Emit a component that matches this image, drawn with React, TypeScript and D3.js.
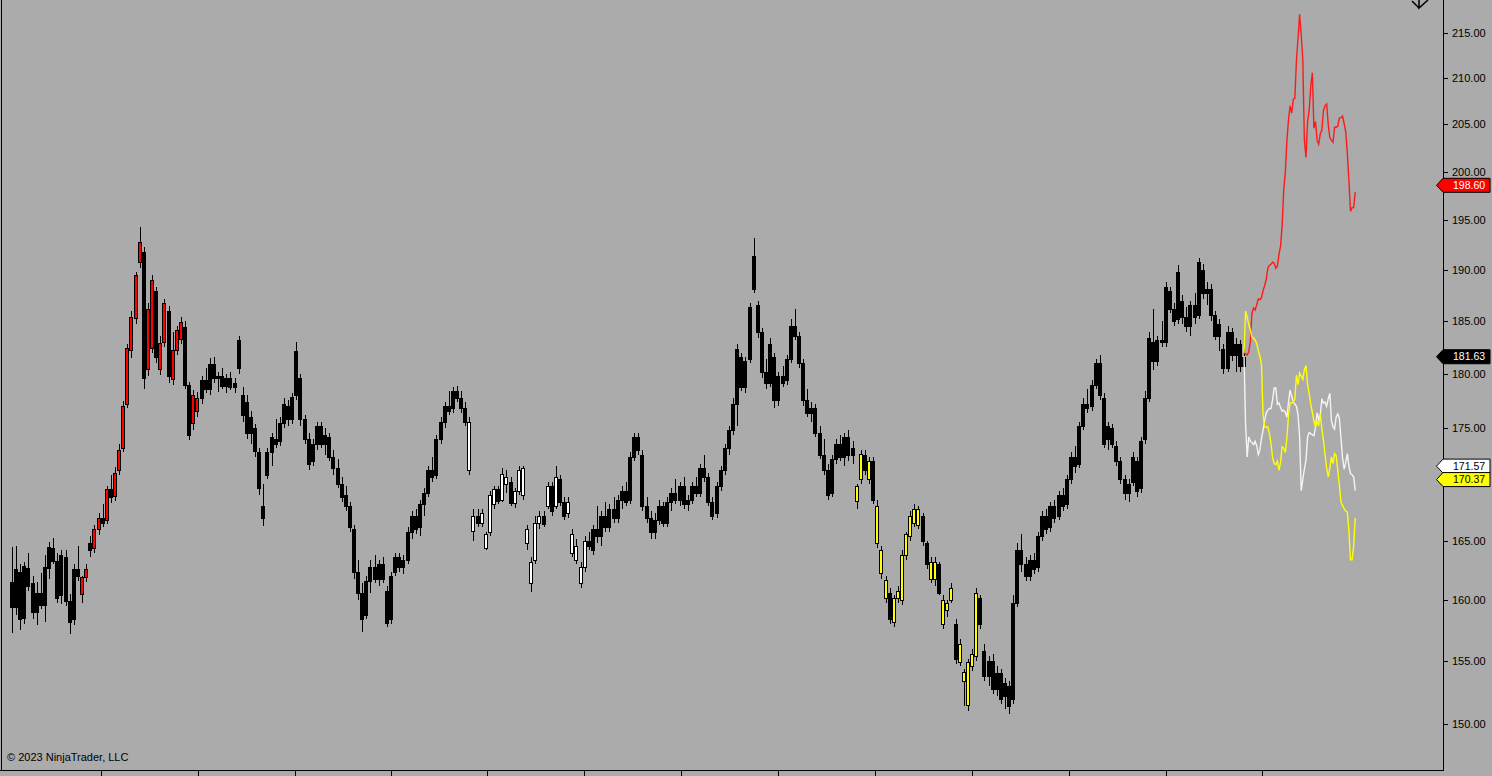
import React from 'react';
import * as d3 from 'd3';

// one candle = [open, high, low, close]
type Bar = [number, number, number, number];

const segStart: Bar[] = [
  [161.5, 164.5, 157.3, 159.4], [159.4, 164.6, 158.8, 162.6], [162.4, 163.0, 157.5, 158.4],
  [158.5, 163.2, 158.0, 162.9], [162.7, 164.0, 160.8, 161.2], [161.4, 162.0, 158.4, 159.0],
  [159.0, 161.5, 157.9, 160.6], [160.6, 162.3, 159.3, 159.6], [159.6, 163.8, 158.2, 162.8],
  [162.7, 164.9, 161.8, 164.5], [164.4, 165.3, 163.0, 163.3], [163.3, 164.0, 159.8, 160.2],
  [160.4, 164.2, 159.7, 163.8], [163.6, 164.2, 159.5, 159.9], [159.9, 160.5, 157.2, 158.2],
  [158.4, 163.0, 157.9, 162.6], [162.6, 164.6, 161.6, 162.0],
];

const segRed: Bar[] = [
  [160.5, 162.0, 159.8, 161.9], [161.9, 163.0, 161.5, 162.6], [164.8, 165.4, 163.6, 164.2],
  [164.4, 166.4, 164.0, 166.0], [166.0, 167.4, 165.5, 167.0], [167.0, 168.2, 166.2, 166.6],
  [166.8, 169.8, 166.5, 169.5], [169.5, 170.8, 168.3, 168.8], [168.9, 171.5, 168.5, 171.0],
  [171.2, 173.6, 170.8, 173.0], [173.2, 177.5, 172.8, 177.0], [177.2, 182.8, 176.8, 182.5],
  [182.3, 186.0, 181.5, 185.4], [185.3, 189.8, 184.8, 189.5], [190.8, 194.3, 190.2, 192.8],
  [191.8, 192.3, 178.6, 179.6], [180.5, 186.8, 179.8, 186.2], [182.5, 189.5, 182.0, 189.0],
  [188.0, 188.4, 181.0, 181.6], [180.5, 183.6, 179.9, 182.9], [183.0, 187.2, 182.6, 186.8],
  [186.0, 186.5, 179.2, 179.8], [179.5, 184.0, 179.0, 182.3], [182.3, 184.6, 181.8, 184.2],
  [183.3, 185.4, 182.8, 184.9], [184.5, 185.0, 178.6, 179.0], [179.0, 179.3, 173.9, 174.4],
  [175.5, 178.5, 174.8, 178.0], [176.6, 178.3, 176.0, 177.8],
];

const segMidA: Bar[] = [
  [177.8, 179.8, 177.2, 179.4], [179.4, 180.6, 178.2, 178.6], [178.6, 181.5, 178.0, 180.9],
  [180.9, 181.6, 179.2, 179.6], [179.6, 180.2, 178.3, 179.8], [179.8, 180.6, 178.6, 178.9],
  [178.9, 180.0, 178.2, 179.6], [179.6, 180.2, 178.5, 178.8], [178.8, 179.6, 178.2, 179.2],
  [180.6, 183.6, 180.0, 183.2], [178.0, 178.8, 175.6, 176.2], [177.4, 178.0, 174.0, 174.6],
  [174.6, 176.6, 173.6, 176.0], [175.0, 175.4, 172.4, 172.9], [172.8, 173.2, 169.0, 169.6],
  [168.0, 170.0, 166.3, 167.0], [170.8, 173.2, 170.4, 172.8], [172.8, 174.6, 171.6, 174.2],
  [174.0, 175.8, 173.2, 173.6], [173.8, 176.0, 173.4, 175.5], [175.5, 177.8, 175.0, 177.2],
  [177.0, 177.6, 175.2, 175.8], [175.8, 178.2, 175.4, 177.9], [178.0, 183.0, 177.6, 182.2],
  [179.6, 180.0, 175.2, 175.8], [175.8, 176.2, 173.6, 174.0], [174.0, 174.6, 171.2, 171.8],
  [172.0, 174.0, 171.6, 173.6], [173.6, 175.6, 173.0, 175.2], [175.2, 175.6, 173.2, 173.6],
  [173.6, 175.0, 172.6, 174.4], [174.2, 174.6, 172.0, 172.4], [172.4, 173.0, 170.8, 171.4],
  [171.4, 172.2, 169.6, 170.0], [170.0, 170.6, 168.4, 168.8], [169.0, 169.8, 167.6, 168.0],
  [168.0, 168.4, 165.8, 166.2], [166.0, 166.4, 161.8, 162.4], [162.4, 163.4, 160.0, 160.6],
  [160.6, 161.4, 157.4, 158.4], [158.8, 162.0, 158.4, 161.6], [161.6, 163.4, 160.6, 162.8],
  [162.8, 163.8, 161.4, 161.8], [161.8, 163.4, 161.2, 163.0], [163.0, 163.6, 161.4, 161.8],
  [160.8, 161.2, 157.8, 158.1], [158.4, 162.4, 158.0, 162.0], [162.4, 164.0, 162.0, 163.6],
  [163.6, 164.0, 162.4, 162.8], [162.8, 163.8, 162.2, 163.4], [163.4, 166.2, 163.0, 165.8],
  [165.8, 167.6, 165.2, 167.2], [167.2, 167.8, 165.6, 166.0], [166.2, 168.6, 165.4, 168.2],
  [168.2, 169.6, 167.2, 169.2], [169.2, 171.6, 168.8, 171.2], [171.2, 172.4, 170.2, 170.6],
  [170.8, 174.4, 170.4, 174.0], [174.0, 176.0, 173.6, 175.6], [175.6, 177.4, 175.0, 177.0],
  [177.0, 178.4, 176.2, 176.6], [176.8, 178.8, 176.4, 178.4], [178.4, 178.9, 177.4, 177.8],
  [177.8, 178.4, 176.4, 176.8], [176.8, 177.4, 175.2, 175.6],
];

const segWhite: Bar[] = [
  [171.2, 176.0, 170.8, 175.6], [165.9, 167.8, 165.0, 167.2], [167.2, 167.8, 166.2, 166.6],
  [166.6, 167.8, 166.2, 167.4], [164.4, 165.8, 164.2, 165.6], [165.8, 169.4, 165.4, 169.0],
  [168.2, 169.8, 167.8, 169.5], [169.5, 169.8, 168.2, 168.5], [168.6, 171.4, 168.4, 170.9],
  [170.0, 171.2, 169.2, 170.6], [170.2, 170.6, 168.0, 168.3], [168.3, 169.6, 167.9, 169.4],
  [169.4, 171.6, 169.0, 171.2], [169.0, 171.6, 168.6, 171.4], [164.8, 166.4, 164.2, 166.0],
  [161.4, 163.6, 160.7, 163.2], [163.4, 167.2, 163.0, 166.6], [166.6, 167.6, 166.0, 167.2],
  [167.2, 167.6, 166.2, 166.5], [168.0, 170.2, 167.8, 169.8], [169.8, 170.2, 167.2, 167.6],
  [168.0, 171.6, 167.8, 170.6], [170.4, 170.8, 168.0, 168.4], [168.4, 168.8, 166.8, 167.2],
  [167.4, 168.8, 167.0, 168.4], [164.0, 166.0, 163.6, 165.6], [163.4, 165.2, 163.0, 164.6],
  [161.4, 163.2, 161.0, 162.8], [162.8, 165.4, 162.4, 165.0], [165.0, 165.8, 164.2, 164.6],
];

const segMidB: Bar[] = [
  [164.2, 166.4, 163.8, 166.0], [166.0, 168.0, 164.8, 165.4], [165.4, 167.6, 164.6, 167.2],
  [167.2, 168.4, 165.8, 166.2], [166.2, 168.2, 165.8, 167.8], [167.8, 168.8, 166.6, 167.0],
  [167.0, 169.0, 166.6, 168.6], [168.6, 169.8, 167.8, 169.4], [169.4, 170.2, 168.0, 168.4],
  [168.6, 172.8, 168.2, 172.4], [172.4, 174.6, 172.0, 174.2], [174.2, 174.6, 172.6, 173.0],
  [172.6, 173.0, 167.6, 168.0], [168.0, 168.8, 166.6, 167.0], [167.0, 167.6, 165.2, 165.8],
  [165.8, 167.4, 165.2, 166.8], [166.8, 168.6, 166.4, 168.0], [168.0, 168.4, 166.2, 166.6],
  [166.6, 168.8, 166.2, 168.4], [168.4, 169.6, 167.6, 169.2], [169.2, 170.4, 168.2, 168.6],
  [168.6, 170.2, 168.0, 169.8], [169.8, 170.6, 167.8, 168.2], [168.2, 169.0, 167.6, 168.6],
  [168.6, 170.2, 168.2, 169.8], [169.8, 170.6, 168.8, 169.2], [169.2, 171.8, 168.8, 171.4],
  [171.4, 172.6, 170.2, 170.6], [170.6, 171.0, 168.0, 168.4], [168.4, 168.8, 166.8, 167.2],
  [167.4, 170.2, 167.0, 169.8], [169.8, 171.6, 169.4, 171.2], [171.2, 173.6, 170.8, 173.2],
  [173.2, 175.2, 172.6, 174.8], [174.8, 177.8, 174.4, 177.2], [177.2, 182.8, 175.2, 182.4],
  [181.6, 182.0, 178.4, 178.8], [178.8, 181.6, 178.2, 181.2], [181.4, 186.8, 181.0, 186.4],
  [188.2, 193.2, 187.8, 191.4], [186.6, 187.0, 183.4, 184.0], [184.0, 184.4, 179.6, 180.2],
  [180.2, 181.4, 178.6, 179.2], [179.2, 183.4, 178.8, 182.8], [181.6, 182.0, 176.8, 177.6],
  [177.6, 180.2, 177.0, 179.8], [179.8, 180.8, 178.8, 179.2], [179.4, 181.8, 179.0, 181.4],
  [181.4, 185.2, 181.0, 184.6], [184.6, 186.2, 183.2, 183.6], [183.6, 184.0, 180.6, 181.0],
  [181.0, 181.4, 177.0, 177.6], [177.6, 178.6, 176.0, 176.4], [176.4, 177.4, 175.6, 176.8],
  [176.8, 177.2, 174.2, 174.6], [174.6, 175.2, 172.2, 172.6], [172.6, 174.0, 170.8, 171.2],
  [171.2, 171.8, 168.6, 169.0], [169.2, 172.6, 168.8, 172.2], [172.2, 174.0, 171.8, 173.6],
  [173.6, 174.4, 172.0, 172.4], [172.4, 174.6, 171.6, 174.2], [174.2, 174.8, 172.0, 172.6],
  [172.6, 173.8, 171.8, 173.2],
];

const segYellow: Bar[] = [
  [168.5, 170.0, 167.8, 169.8], [170.4, 173.0, 170.0, 172.7], [172.6, 173.0, 170.8, 171.2],
  [170.4, 172.4, 170.0, 172.0], [172.0, 172.4, 168.2, 168.6], [164.8, 168.6, 164.4, 168.0],
  [162.3, 164.6, 161.8, 164.2], [160.2, 162.0, 159.8, 161.7], [160.6, 161.0, 158.0, 158.4],
  [158.2, 160.4, 157.8, 160.2], [160.2, 161.2, 159.8, 160.8], [160.0, 164.2, 159.6, 163.8],
  [163.8, 165.8, 163.4, 165.6], [165.4, 167.6, 165.0, 167.2], [166.6, 168.2, 166.2, 167.8],
  [166.4, 168.0, 166.0, 167.8], [167.2, 167.4, 164.6, 165.0], [164.8, 165.0, 162.6, 163.0],
  [161.8, 163.6, 161.4, 163.2], [161.8, 163.6, 161.2, 163.2], [163.0, 163.2, 160.4, 160.6],
  [158.0, 160.4, 157.6, 160.0], [159.2, 160.0, 158.6, 159.8], [160.0, 161.4, 159.8, 161.0],
  [158.0, 158.4, 154.8, 155.2], [154.9, 156.8, 154.6, 156.4], [153.4, 154.4, 151.4, 154.1],
  [151.5, 155.2, 151.0, 154.9], [154.6, 156.0, 154.2, 155.6], [155.4, 161.0, 155.0, 160.6],
  [160.2, 160.4, 157.6, 158.0],
];

const segEnd: Bar[] = [
  [155.8, 156.4, 153.4, 153.8], [153.8, 155.4, 153.0, 155.0], [155.0, 155.6, 152.4, 152.8],
  [152.8, 154.6, 152.2, 154.0], [154.0, 154.4, 151.6, 152.0], [152.2, 153.6, 151.2, 153.2],
  [153.0, 153.4, 150.8, 151.4], [152.0, 160.4, 151.6, 159.8], [159.8, 164.8, 159.4, 164.2],
  [164.2, 165.6, 162.4, 163.0], [163.0, 163.6, 161.6, 162.0], [162.0, 163.8, 161.6, 163.4],
  [163.4, 164.0, 162.2, 162.6], [162.8, 165.8, 162.4, 165.4], [165.4, 167.6, 165.0, 167.2],
  [167.2, 167.8, 165.6, 166.0], [166.2, 168.4, 165.8, 168.0], [168.0, 168.6, 166.6, 167.0],
  [167.2, 169.4, 166.8, 169.0], [169.0, 169.6, 167.6, 168.0], [168.2, 170.8, 167.8, 170.4],
  [170.4, 172.8, 170.0, 172.4], [172.4, 173.4, 171.0, 171.6], [171.8, 175.6, 171.4, 175.2],
  [175.2, 177.8, 174.8, 177.2], [177.2, 178.6, 176.4, 176.8], [177.0, 179.4, 176.6, 179.0],
  [179.0, 181.4, 178.6, 181.0], [181.0, 181.8, 177.6, 178.0], [177.8, 178.2, 173.2, 173.6],
  [174.0, 175.6, 173.0, 175.2], [175.0, 175.4, 173.2, 173.6], [173.4, 173.8, 171.6, 172.0],
  [172.0, 172.4, 170.0, 170.4], [170.4, 170.8, 168.6, 169.2], [169.2, 170.4, 168.4, 170.0],
  [170.2, 172.8, 169.8, 172.4], [172.0, 172.4, 168.8, 169.4], [169.6, 174.2, 169.2, 173.8],
  [174.0, 178.4, 173.6, 177.8], [177.8, 184.0, 177.4, 183.4], [183.0, 186.2, 180.4, 181.2],
  [181.2, 183.6, 180.8, 183.2], [183.2, 185.0, 182.6, 183.0], [183.0, 188.8, 182.6, 188.4],
  [188.0, 188.4, 185.8, 186.2], [186.2, 186.8, 184.6, 185.0], [185.2, 190.5, 184.8, 189.8],
  [187.0, 187.6, 184.8, 185.4], [185.4, 186.4, 184.0, 184.6], [184.6, 187.0, 183.6, 186.6],
  [186.6, 187.8, 184.8, 185.4], [185.6, 191.2, 185.2, 190.8], [190.0, 190.6, 187.2, 187.8],
  [187.8, 188.8, 186.6, 188.2], [188.2, 188.6, 185.0, 185.6], [185.6, 186.0, 183.2, 183.6],
  [183.6, 185.2, 182.2, 184.8], [182.4, 182.8, 180.0, 180.6], [180.6, 184.6, 180.2, 184.0],
  [184.0, 184.4, 181.2, 181.8], [181.8, 183.4, 180.2, 182.8], [182.8, 183.2, 180.2, 180.8],
  [180.8, 182.4, 180.4, 181.63],
];

// fill of rising candles per stretch (falling candles are always black)
const segments = [
  { up: '#000000', bars: segStart },
  { up: '#ff0000', bars: segRed },
  { up: '#000000', bars: segMidA },
  { up: '#ffffff', bars: segWhite },
  { up: '#000000', bars: segMidB },
  { up: '#ffff00', bars: segYellow },
  { up: '#000000', bars: segEnd },
];

// forward paths drawn after the last bar
const redPath = [
  182.0, 181.9, 181.8, 182.1, 183.1, 185.8, 186.3, 186.1, 186.6, 187.2, 187.1, 187.3, 188.0, 188.5,
  189.1, 190.2, 190.5, 190.6, 190.8, 190.7, 190.2, 190.4, 191.6, 192.4, 194.5, 198.1, 200.0, 203.3,
  205.5, 207.0, 206.2, 207.7, 207.8, 212.0, 214.4, 217.1, 214.8, 212.0, 203.3, 201.5, 205.3, 206.5,
  209.1, 210.6, 204.6, 205.3, 203.3, 202.9, 204.0, 204.4, 206.5, 207.0, 207.2, 205.0, 203.6, 203.3,
  203.1, 204.7, 204.7, 204.8, 205.7, 205.7, 205.9, 205.1, 204.2, 202.0, 199.1, 195.9, 196.3, 196.3,
  197.9,
];
const whitePath = [
  181.7, 175.3, 172.4, 174.2, 173.8, 173.7, 173.5, 173.8, 173.4, 172.6, 173.0, 174.1, 174.8, 175.7,
  176.4, 176.65, 176.8, 176.8, 177.6, 178.7, 178.7, 177.2, 177.3, 176.9, 176.55, 176.65, 176.45, 176.0,
  177.4, 178.5, 177.9, 177.4, 177.2, 177.0, 176.2, 174.2, 169.4, 170.4, 171.3, 172.1, 174.2, 174.6,
  174.5, 174.4, 174.3, 175.1, 176.4, 175.8, 176.2, 177.7, 177.3, 177.4, 177.0, 177.7, 178.2, 175.7,
  175.1, 174.9, 176.0, 176.3, 175.9, 174.1, 172.3, 171.3, 171.9, 172.7, 171.6, 170.9, 170.8, 170.6,
  169.4,
];
const yellowPath = [
  182.0, 186.0, 185.4, 184.7, 184.2, 183.5, 183.4, 183.2, 182.9, 182.2, 181.7, 180.9, 176.2, 175.1,
  175.1, 175.1, 174.5, 173.6, 172.3, 171.8, 171.7, 172.0, 171.2, 171.9, 173.3, 173.2, 172.8, 174.1,
  176.2, 177.3, 177.3, 177.4, 177.7, 179.9, 179.0, 180.1, 179.8, 179.5, 180.4, 180.8, 179.0, 178.2,
  177.2, 176.45, 175.65, 175.1, 175.6, 175.2, 176.3, 174.9, 173.9, 172.6, 171.4, 170.6, 171.4, 172.4,
  171.8, 172.7, 172.5, 171.2, 169.9, 168.4, 168.1, 167.8, 167.6, 167.5, 165.9, 163.4, 163.4, 164.6,
  167.0,
];
const paths = [
  { color: '#ff1a1a', values: redPath },
  { color: '#f4f4f4', values: whitePath },
  { color: '#ffff00', values: yellowPath },
];
const BARS_AHEAD = 27; // forward span measured in bar widths

const priceTicks = [150, 155, 160, 165, 170, 175, 180, 185, 190, 195, 200, 205, 210, 215];

const flags = [
  { value: 198.6, fill: '#ff0000', text: '#ffffff' },
  { value: 181.63, fill: '#000000', text: '#ffffff' },
  { value: 171.57, fill: '#ffffff', text: '#000000' },
  { value: 170.37, fill: '#ffff00', text: '#000000' },
];

// time axis ticks, in bar units
const timeTickBars = [21.6, 45.1, 68.7, 92.0, 115.3, 138.8, 162.4, 185.9, 209.5, 233.0, 256.6, 280.1, 303.4];

const W = 1492;
const H = 776;
const AXIS_X = 1443;
const AXIS_Y = 770;
const FONT = '"Liberation Sans", Arial, sans-serif';

export default function App() {
  const candles = segments.flatMap((s) => s.bars.map((b) => ({ b, up: s.up })));
  const n = candles.length;

  const x = d3.scaleLinear().domain([0, n - 1]).range([12, 1244]);
  const y = d3.scaleLog().domain([150, 215]).range([724, 33]);
  const fmt = d3.format('.2f');

  const pathLine = (values: number[]) =>
    d3
      .line<number>()
      .x((_, k) => x(n - 1 + (k * BARS_AHEAD) / (values.length - 1)))
      .y((d) => y(d))(values);

  const flagPath = (v: number) => {
    const c = y(v);
    return `M${AXIS_X - 6.5},${c} L${AXIS_X},${c - 7} L1490,${c - 7} L1490,${c + 7} L${AXIS_X},${c + 7} Z`;
  };

  // a tick label sitting under a flag is hidden by it
  const labelTicks = priceTicks.filter((p) => flags.every((f) => Math.abs(y(p) - y(f.value)) > 8));

  return (
    <div style={{ position: 'fixed', left: 0, top: 0, width: W, height: H, background: '#ababab' }}>
      <svg width={W} height={H} style={{ display: 'block' }}>
        <rect width={W} height={H} fill="#ababab" />

        {/* frame */}
        <g shapeRendering="crispEdges" stroke="#000" strokeWidth={1}>
          <line x1={1.5} y1={0} x2={1.5} y2={AXIS_Y} />
          <line x1={0} y1={AXIS_Y + 0.5} x2={AXIS_X} y2={AXIS_Y + 0.5} />
          <line x1={AXIS_X + 0.5} y1={0} x2={AXIS_X + 0.5} y2={AXIS_Y + 1} />
          {timeTickBars.map((t) => (
            <line key={t} x1={Math.round(x(t)) + 0.5} y1={AXIS_Y} x2={Math.round(x(t)) + 0.5} y2={H} />
          ))}
          {priceTicks.map((p) => (
            <line key={p} x1={AXIS_X} y1={Math.round(y(p)) + 0.5} x2={AXIS_X + 5} y2={Math.round(y(p)) + 0.5} />
          ))}
        </g>

        {/* price labels */}
        <g fontFamily={FONT} fontSize={11} fill="#000">
          {labelTicks.map((p) => (
            <text key={p} x={1452} y={y(p)} dy="0.36em">
              {fmt(p)}
            </text>
          ))}
        </g>

        {/* candles */}
        <g shapeRendering="crispEdges">
          {candles.map(({ b, up }, i) => {
            const [o, h, l, c] = b;
            const cx = Math.round(x(i));
            const top = Math.round(y(Math.max(o, c)));
            const bot = Math.round(y(Math.min(o, c)));
            const rising = c >= o;
            return (
              <g key={i}>
                <line x1={cx + 0.5} x2={cx + 0.5} y1={Math.round(y(h))} y2={Math.round(y(l))} stroke="#000" strokeWidth={1} />
                <rect
                  x={cx - 1.5}
                  y={top + 0.5}
                  width={3}
                  height={Math.max(1, bot - top)}
                  fill={rising ? up : '#000'}
                  stroke="#000"
                  strokeWidth={1}
                />
              </g>
            );
          })}
        </g>

        {/* forward paths */}
        {paths.map((p) => (
          <path key={p.color} d={pathLine(p.values) || ''} fill="none" stroke={p.color} strokeWidth={1.4} />
        ))}

        {/* value flags */}
        <g fontFamily={FONT} fontSize={10.5}>
          {flags.map((f) => (
            <g key={f.value}>
              <path d={flagPath(f.value)} fill={f.fill} stroke="#000" strokeWidth={1} />
              <text x={1453} y={y(f.value)} dy="0.35em" fill={f.text}>
                {fmt(f.value)}
              </text>
            </g>
          ))}
        </g>

        {/* corner marker */}
        <path d="M1412,1 L1419,8 M1419,0 L1419,8 L1428,0" fill="none" stroke="#000" strokeWidth={1.5} />

        <text x={7} y={761} fontFamily={FONT} fontSize={11} fill="#000">
          © 2023 NinjaTrader, LLC
        </text>
      </svg>
    </div>
  );
}
